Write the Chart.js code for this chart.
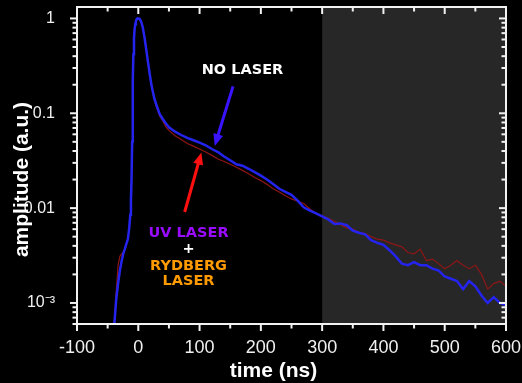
<!DOCTYPE html>
<html>
<head>
<meta charset="utf-8">
<script src="https://cdn.jsdelivr.net/npm/chart.js@4.4.0/dist/chart.umd.min.js"></script>
<style>
  html, body { margin: 0; padding: 0; background: #000; }
  #wrap { width: 522px; height: 383px; }
</style>
</head>
<body>
<div id="wrap"><canvas id="decayChart"></canvas></div>
<script>
// time axis (ns) shared by both traces
const timeNs = [-39, -36, -33, -30, -27, -24, -22, -20, -17, -15, -13, -12, -11, -10, -9, -8, -7, -6, -5, -4, -3, -2, -1, 0,
  1, 2, 3, 4, 5, 7, 10, 13, 16, 19, 22, 26, 30, 35, 40, 45, 50, 60, 70, 80, 90, 100,
  110, 120, 130, 140, 150, 160, 170, 180, 190, 200, 210, 220, 230, 240, 250, 260, 270, 280, 290, 300,
  310, 320, 330, 340, 350, 360, 370, 380, 390, 400, 410, 420, 430, 440, 450, 460, 470, 480, 490, 500,
  510, 520, 530, 540, 550, 560, 570, 580, 590, 600];

// NO LASER (blue)
const noLaser = [0.00061, 0.0011, 0.0016, 0.0022, 0.0028, 0.0034, 0.0037, 0.0041, 0.0047, 0.006, 0.0085, 0.012, 0.02, 0.05, 0.22, 0.42, 0.62, 0.77, 0.87, 0.93, 0.97, 0.99, 1.0, 1.0,
  1.0, 0.99, 0.97, 0.94, 0.91, 0.82, 0.64, 0.47, 0.34, 0.25, 0.19, 0.145, 0.12, 0.098, 0.087, 0.078, 0.071, 0.064, 0.059, 0.055, 0.052, 0.049,
  0.046, 0.042, 0.039, 0.035, 0.032, 0.029, 0.028, 0.026, 0.024, 0.022, 0.020, 0.018, 0.016, 0.0148, 0.0138, 0.012, 0.0102, 0.0094, 0.0088, 0.0082,
  0.0076, 0.0068, 0.0069, 0.0066, 0.0058, 0.0055, 0.0053, 0.0046, 0.0043, 0.0041, 0.0036, 0.0031, 0.0026, 0.0025, 0.0027, 0.0025, 0.0025, 0.0023, 0.0022, 0.0019,
  0.0018, 0.0017, 0.0014, 0.0017, 0.0015, 0.0012, 0.0010, 0.00115, 0.0010, 0.00095];

// UV LASER + RYDBERG LASER (dark red)
const uvRydberg = [0.00063, 0.0013, 0.0025, 0.0031, 0.0033, 0.0034, 0.0037, 0.0041, 0.0047, 0.006, 0.0085, 0.012, 0.02, 0.05, 0.22, 0.42, 0.62, 0.77, 0.87, 0.93, 0.97, 0.99, 1.0, 1.0,
  1.0, 0.99, 0.97, 0.94, 0.91, 0.82, 0.64, 0.47, 0.34, 0.25, 0.19, 0.14, 0.115, 0.093, 0.083, 0.072, 0.066, 0.058, 0.053, 0.048, 0.045, 0.042,
  0.039, 0.036, 0.033, 0.031, 0.029, 0.027, 0.025, 0.023, 0.021, 0.0195, 0.0178, 0.016, 0.0148, 0.0135, 0.0125, 0.0118, 0.0112, 0.0098, 0.0088, 0.0083,
  0.0078, 0.0072, 0.0067, 0.0062, 0.0060, 0.0056, 0.0054, 0.0050, 0.0047, 0.0046, 0.0043, 0.0041, 0.0039, 0.0034, 0.0033, 0.0037, 0.0028, 0.0029, 0.0026, 0.0023,
  0.0025, 0.0028, 0.0025, 0.0023, 0.0025, 0.0020, 0.0014, 0.0016, 0.0017, 0.0015];

const xTicks = [-100, 0, 100, 200, 300, 400, 500, 600];
const yTicks = [0.001, 0.01, 0.1, 1];
const yTickLabels = ['10⁻³', '0.01', '0.1', '1'];

const shadeFrom = 300;

// annotations, in data coordinates
const notes = [
  { text: 'NO LASER', t: 170, v: 0.287, color: '#ffffff' },
  { text: 'UV LASER', t: 82, v: 0.00546, color: '#9a0cff' },
  { text: '+', t: 82, v: 0.0037, color: '#ffffff' },
  { text: 'RYDBERG', t: 82, v: 0.00245, color: '#ff9a00' },
  { text: 'LASER', t: 82, v: 0.0017, color: '#ff9a00' }
];
const arrows = [
  { from: [154.6, 0.192], to: [124.7, 0.0453], color: '#3a14ff' },
  { from: [75.7, 0.0091], to: [103, 0.0386], color: '#ff1010' }
];

function toPoints(ys) {
  return timeNs.map((t, i) => ({ x: t, y: ys[i] }));
}

// frame, mirrored ticks, shading, titles and annotations
const decor = {
  id: 'decor',
  beforeDatasetsDraw(chart) {
    const { ctx, chartArea: a, scales: { x } } = chart;
    const x0 = x.getPixelForValue(shadeFrom);
    ctx.save();
    ctx.fillStyle = '#272727';
    ctx.fillRect(x0, a.top, a.right - x0, a.bottom - a.top);
    ctx.restore();
  },
  afterDraw(chart) {
    const { ctx, chartArea: a, scales: { x, y } } = chart;
    ctx.save();
    ctx.strokeStyle = '#f2f2f2';
    ctx.lineWidth = 2;
    ctx.strokeRect(a.left, a.top, a.right - a.left, a.bottom - a.top);

    function line(x1, y1, x2, y2) {
      ctx.beginPath(); ctx.moveTo(x1, y1); ctx.lineTo(x2, y2); ctx.stroke();
    }
    // x ticks every 50
    for (let t = -100; t <= 600; t += 50) {
      const px = x.getPixelForValue(t);
      const len = t % 100 === 0 ? 7 : 4.5;
      line(px, a.bottom, px, a.bottom + len);
      line(px, a.top, px, a.top + len);
    }
    // y ticks (log, minor 2..9)
    for (let d = -4; d <= 0; d++) {
      for (let m = 1; m <= 9; m++) {
        const v = m * Math.pow(10, d);
        if (v < y.min || v > y.max) continue;
        const py = y.getPixelForValue(v);
        const len = m === 1 ? 7 : 4.5;
        line(a.left - len, py, a.left, py);
        line(a.right - len, py, a.right, py);
      }
    }

    // axis titles
    ctx.fillStyle = '#ffffff';
    ctx.font = 'bold 21px "Liberation Sans", Arial, sans-serif';
    ctx.textAlign = 'center';
    ctx.textBaseline = 'middle';
    ctx.fillText('time (ns)', (a.left + a.right) / 2 - 18, 371);
    ctx.save();
    ctx.translate(22, (a.top + a.bottom) / 2 + 14);
    ctx.rotate(-Math.PI / 2);
    ctx.fillText('amplitude (a.u.)', 0, 0);
    ctx.restore();

    // arrows
    arrows.forEach(ar => {
      const x1 = x.getPixelForValue(ar.from[0]), y1 = y.getPixelForValue(ar.from[1]);
      const x2 = x.getPixelForValue(ar.to[0]), y2 = y.getPixelForValue(ar.to[1]);
      const ang = Math.atan2(y2 - y1, x2 - x1);
      const head = 12;
      ctx.strokeStyle = ar.color;
      ctx.fillStyle = ar.color;
      ctx.lineWidth = 3;
      line(x1, y1, x2 - Math.cos(ang) * head * 0.8, y2 - Math.sin(ang) * head * 0.8);
      ctx.beginPath();
      ctx.moveTo(x2, y2);
      ctx.lineTo(x2 - head * Math.cos(ang) + 5 * Math.sin(ang), y2 - head * Math.sin(ang) - 5 * Math.cos(ang));
      ctx.lineTo(x2 - head * Math.cos(ang) - 5 * Math.sin(ang), y2 - head * Math.sin(ang) + 5 * Math.cos(ang));
      ctx.closePath();
      ctx.fill();
    });

    // labels
    ctx.font = 'bold 14.5px "DejaVu Sans", sans-serif';
    notes.forEach(n => {
      ctx.fillStyle = n.color;
      ctx.fillText(n.text, x.getPixelForValue(n.t), y.getPixelForValue(n.v));
    });
    ctx.restore();
  }
};

new Chart(document.getElementById('decayChart'), {
  type: 'line',
  data: {
    datasets: [
      {
        label: 'NO LASER',
        data: toPoints(noLaser),
        borderColor: '#2424ee',
        borderWidth: 2.5,
        pointRadius: 0,
        tension: 0
      },
      {
        label: 'UV LASER + RYDBERG LASER',
        data: toPoints(uvRydberg),
        borderColor: '#8e1616',
        borderWidth: 1.2,
        pointRadius: 0,
        tension: 0
      }
    ]
  },
  options: {
    responsive: true,
    maintainAspectRatio: false,
    animation: false,
    layout: { padding: { left: 0, right: 16, top: 7, bottom: 0 } },
    plugins: { legend: { display: false }, tooltip: { enabled: false } },
    scales: {
      x: {
        type: 'linear',
        min: -100,
        max: 600,
        grid: { display: false },
        border: { display: false },
        afterBuildTicks: s => { s.ticks = xTicks.map(v => ({ value: v })); },
        afterFit: s => { s.height = 59; s.paddingLeft = 0; s.paddingRight = 0; },
        ticks: {
          color: '#f0f0f0',
          padding: 5,
          maxRotation: 0,
          font: { family: '"Liberation Sans", Arial, sans-serif', size: 18 }
        }
      },
      y: {
        type: 'logarithmic',
        min: 0.00061,
        max: 1.32,
        grid: { display: false },
        border: { display: false },
        afterBuildTicks: s => { s.ticks = yTicks.map(v => ({ value: v })); },
        afterFit: s => { s.width = 77; s.paddingTop = 0; s.paddingBottom = 0; },
        ticks: {
          color: '#f0f0f0',
          padding: 14,
          font: { family: '"Liberation Sans", Arial, sans-serif', size: 16 },
          callback: v => {
            const i = yTicks.indexOf(v);
            return i >= 0 ? yTickLabels[i] : '';
          }
        }
      }
    }
  },
  plugins: [decor]
});
</script>
</body>
</html>
